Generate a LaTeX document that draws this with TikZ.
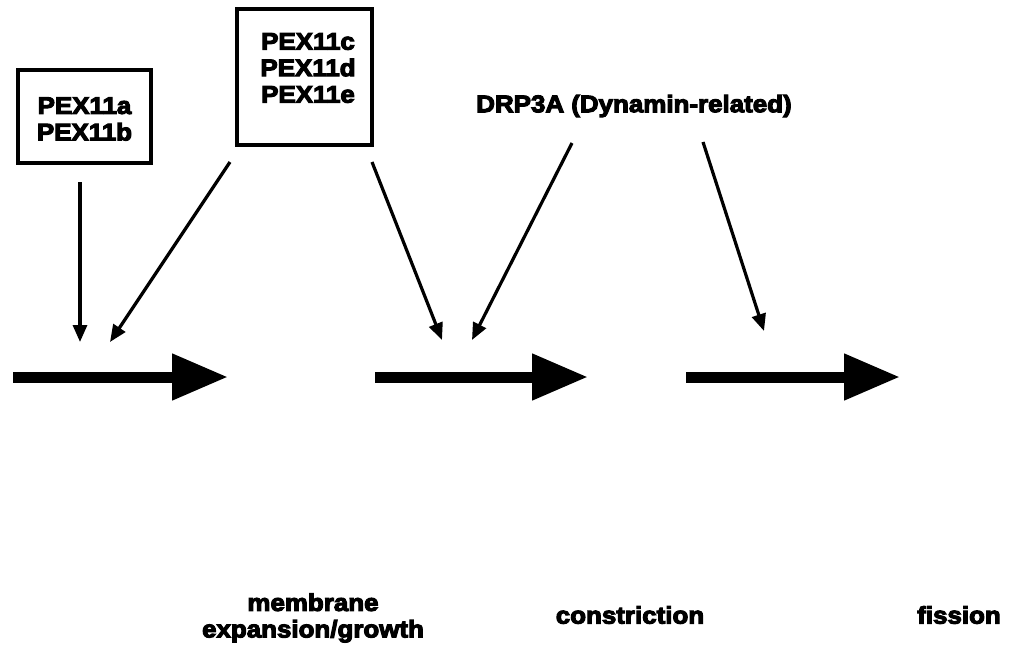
\documentclass[tikz,border=0pt]{standalone}
\usepackage{fontspec}
\setmainfont{Liberation Sans}[BoldFeatures={FakeStretch=1.08,FakeBold=4.5}]
\usetikzlibrary{arrows.meta}
\tikzset{
  lbl/.style={font=\bfseries\fontsize{24}{26.5}\selectfont, align=center, inner sep=0pt},
  pbox/.style={draw, line width=3.5pt, inner sep=0pt},
  thick arrow/.style={line width=11pt, -{Triangle[length=56pt,width=44pt]}},
  thin arrow/.style={line width=3.2pt, -{Triangle[length=17pt,width=14pt]}}
}
\begin{document}
\begin{tikzpicture}[x=1pt,y=-1pt]
\fill[white] (0,0) rectangle (1010,646);
\useasboundingbox (0,0) rectangle (1010,646);
% boxes
\node[pbox, minimum width=133pt, minimum height=93pt] (box1) at (84.5,116.5) {};
\node[lbl] (t1) at (84.5,119) {PEX11a\\PEX11b};
\node[pbox, minimum width=135pt, minimum height=136pt] (box2) at (304.5,77) {};
\node[lbl] (t2) at (308,68) {PEX11c\\PEX11d\\PEX11e};
\node[lbl] (drp) at (634,106) {DRP3A (Dynamin-related)};
% bottom labels
\node[lbl] (mem) at (313,618) {membrane\\expansion/growth};
\node[lbl] (con) at (630,615) {constriction};
\node[lbl] (fis) at (959,615) {fission};
% thick arrows
\coordinate (s1) at (13,377);  \coordinate (e1) at (228,377);
\coordinate (s2) at (375,377); \coordinate (e2) at (588,377);
\coordinate (s3) at (686,377); \coordinate (e3) at (900,377);
\draw[thick arrow] (s1) -- (e1);
\draw[thick arrow] (s2) -- (e2);
\draw[thick arrow] (s3) -- (e3);
% thin arrows
\coordinate (a1s) at (80,182);  \coordinate (a1e) at (80,342);
\coordinate (a2s) at (230,162); \coordinate (a2e) at (110,342);
\coordinate (a3s) at (372,162); \coordinate (a3e) at (442,340);
\coordinate (a4s) at (572,143); \coordinate (a4e) at (472,340);
\coordinate (a5s) at (703,142); \coordinate (a5e) at (764,331);
\draw[thin arrow] (a1s) -- (a1e);
\draw[thin arrow] (a2s) -- (a2e);
\draw[thin arrow] (a3s) -- (a3e);
\draw[thin arrow] (a4s) -- (a4e);
\draw[thin arrow] (a5s) -- (a5e);
\end{tikzpicture}
\end{document}
